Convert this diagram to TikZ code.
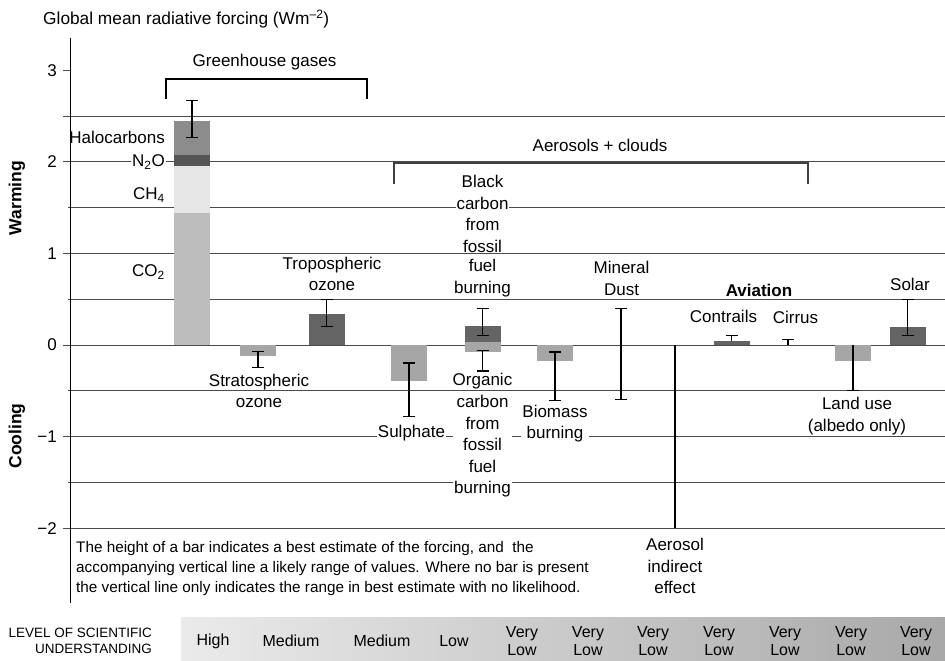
\documentclass[tikz,border=0pt]{standalone}
\usepackage{fontspec}
\setmainfont{Liberation Sans}
\usetikzlibrary{arrows.meta}

\definecolor{co2c}{HTML}{BDBDBD}
\definecolor{ch4c}{HTML}{E6E6E6}
\definecolor{n2oc}{HTML}{555555}
\definecolor{haloc}{HTML}{8C8C8C}
\definecolor{lightbar}{HTML}{A6A6A6}
\definecolor{darkbar}{HTML}{646464}
\definecolor{gridc}{HTML}{4A4A4A}

% zero line (pt from top) and pt per W m^-2
\def\zy{345}
\def\uy{91.6}
% bar centred at #1 from forcing #2 to #3, colour #4
\newcommand{\fbar}[4]{\fill[#4] ({#1-18},{\zy-\uy*(#2)}) rectangle ({#1+18},{\zy-\uy*(#3)});}
% uncertainty range at #1 from #2 to #3
\newcommand{\ebar}[3]{\draw[errbar] (#1,{\zy-\uy*(#2)}) -- (#1,{\zy-\uy*(#3)});}

\begin{document}
\begin{tikzpicture}[x=1pt, y=-1pt,
  every node/.style={inner sep=1pt},
  lbl/.style={font=\fontsize{17}{21.5}\selectfont, align=center},
  wlbl/.style={lbl, fill=white},
  gridline/.style={draw=gridc, line width=1pt},
  bracket/.style={draw=black, line width=1.2pt},
  errbar/.style={draw=black, line width=1.1pt, {Bar[width=12pt]}-{Bar[width=12pt]}},
  topcap/.style={draw=black, line width=1.1pt, {Bar[width=12pt]}-},
  botcap/.style={draw=black, line width=1.1pt, -{Bar[width=12pt]}},
  lvl/.style={font=\fontsize{16}{18}\selectfont, align=center},
]
\useasboundingbox (0,0) rectangle (945,661);
\fill[white] (0,0) rectangle (945,661);

% title
\node[anchor=west, font=\fontsize{17.3}{20}\selectfont] (title) at (42,19)
  {Global mean radiative forcing (Wm\textsuperscript{–2})};

% grid lines and axis
\foreach \v/\s in {2.5/63, 2/63, 1.5/68, 1/63, 0.5/68, 0/63, -0.5/68, -1/63, -1.5/68, -2/63}
  \draw[gridline] (\s,{\zy-\uy*(\v)}) -- (945,{\zy-\uy*(\v)});
\draw[gridline] (63,{\zy-\uy*3}) -- (70,{\zy-\uy*3});
\draw[line width=1pt] (70,38) -- (70,603);

% tick labels
\foreach \v/\t in {3/3, 2/2, 1/1, 0/0, -1/−1, -2/−2}
  \node[anchor=east, font=\fontsize{17}{20}\selectfont] (tick\v) at (58,{\zy-\uy*(\v)}) {\t};

% side labels
\node[rotate=90, font=\fontsize{17.5}{20}\selectfont\bfseries] (warm) at (17,198) {Warming};
\node[rotate=90, font=\fontsize{17.5}{20}\selectfont\bfseries] (cool) at (17,436) {Cooling};

% group brackets
\draw[bracket] (166,99) -- (166,79) -- (367,79) -- (367,99);
\node[lbl] (ghg) at (264.5,62) {Greenhouse gases};
\draw[draw=black!75, line width=1.7pt] (394,184) -- (394,163) -- (808,163) -- (808,184);
\node[lbl] (aer) at (600,145) {Aerosols + clouds};

% long-lived greenhouse gases
\fbar{192}{0}{1.445}{co2c}
\fbar{192}{1.445}{1.954}{ch4c}
\fbar{192}{1.954}{2.071}{n2oc}
\fbar{192}{2.071}{2.445}{haloc}
\ebar{192}{2.26}{2.68}
% ozone
\fbar{258}{0}{-0.12}{lightbar}
\ebar{258}{-0.065}{-0.25}
\fbar{326.5}{0}{0.34}{darkbar}
\ebar{326.5}{0.2}{0.5}
% aerosols
\fbar{409}{0}{-0.39}{lightbar}
\ebar{409}{-0.19}{-0.79}
\fbar{482.5}{0.03}{-0.08}{lightbar}
\fbar{482.5}{0.03}{0.21}{darkbar}
\ebar{482.5}{0.1}{0.4}
\ebar{482.5}{-0.05}{-0.29}
\fbar{555}{0}{-0.18}{lightbar}
\ebar{555}{-0.07}{-0.61}
\ebar{621}{0.4}{-0.6}
\draw[line width=1.1pt] (675,{\zy}) -- (675,{\zy+2*\uy});
% aviation
\fbar{731.5}{0}{0.045}{darkbar}
\draw[topcap] (731.5,{\zy-\uy*0.11}) -- (731.5,{\zy-\uy*0.045});
\draw[topcap] (788,{\zy-\uy*0.07}) -- (788,{\zy});
% land use and solar
\fbar{853}{0}{-0.18}{lightbar}
\draw[botcap] (853,{\zy}) -- (853,{\zy+0.5*\uy});
\fbar{907.5}{0}{0.2}{darkbar}
\ebar{907.5}{0.1}{0.5}

% component labels
\node[lbl, anchor=east] (halo) at (166,137) {Halocarbons};
\node[wlbl, anchor=east] (n2o) at (166,162) {N\textsubscript{2}O};
\node[lbl, anchor=east] (ch4) at (166,195) {CH\textsubscript{4}};
\node[lbl, anchor=east] (co2) at (166,272) {CO\textsubscript{2}};
\node[lbl] (strat) at (259,391) {Stratospheric\\ozone};
\node[lbl] (trop) at (332,274) {Tropospheric\\ozone};
\node[lbl, fill=white] (sulph) at (411.5,433) {Sulphate};
\node[wlbl] (bc1) at (482.5,214) {Black\\carbon\\from\\fossil};
\node[lbl] (bc2) at (482.5,278) {fuel\\burning};
\node[lbl] (oc1) at (482.5,381.5) {Organic};
\node[wlbl] (oc2) at (482.5,446.5) {carbon\\from\\fossil\\fuel\\burning};
\node[wlbl] (bio) at (555,423.5) {Biomass\\burning};
\node[lbl] (dust) at (621.5,278.5) {Mineral\\Dust};
\node[lbl] (aie) at (675,566) {Aerosol\\indirect\\effect};
\node[lbl, font=\fontsize{17}{21.5}\selectfont\bfseries] (avi) at (759,290) {Aviation};
\node[lbl] (contr) at (723.5,316.5) {Contrails};
\node[lbl] (cirr) at (795.5,317) {Cirrus};
\node[lbl] (land) at (857,416) {Land use\\(albedo only)};
\node[lbl] (solar) at (910,284) {Solar};

% explanatory note
\node[anchor=west, align=left, font=\fontsize{15.3}{20}\selectfont] (note) at (75,569)
  {The height of a bar indicates a best estimate of the forcing, and \ the\\
   accompanying vertical line a likely range of values. Where no bar is present\\
   the vertical line only indicates the range in best estimate with no likelihood.};

% level of scientific understanding
\shade[left color=black!8, right color=black!34] (181,617) rectangle (945,661);
\node[anchor=east, align=right, font=\fontsize{13.5}{16}\selectfont] (lsu) at (153,641)
  {LEVEL OF SCIENTIFIC\\UNDERSTANDING};
\foreach \x/\t [count=\i] in {213/High, 291/Medium, 382/Medium, 454/Low,
    522/Very\\Low, 588/Very\\Low, 653/Very\\Low, 719/Very\\Low,
    785/Very\\Low, 851/Very\\Low, 916/Very\\Low}
  \node[lvl] (lv\i) at (\x,641) {\t};
\end{tikzpicture}
\end{document}
